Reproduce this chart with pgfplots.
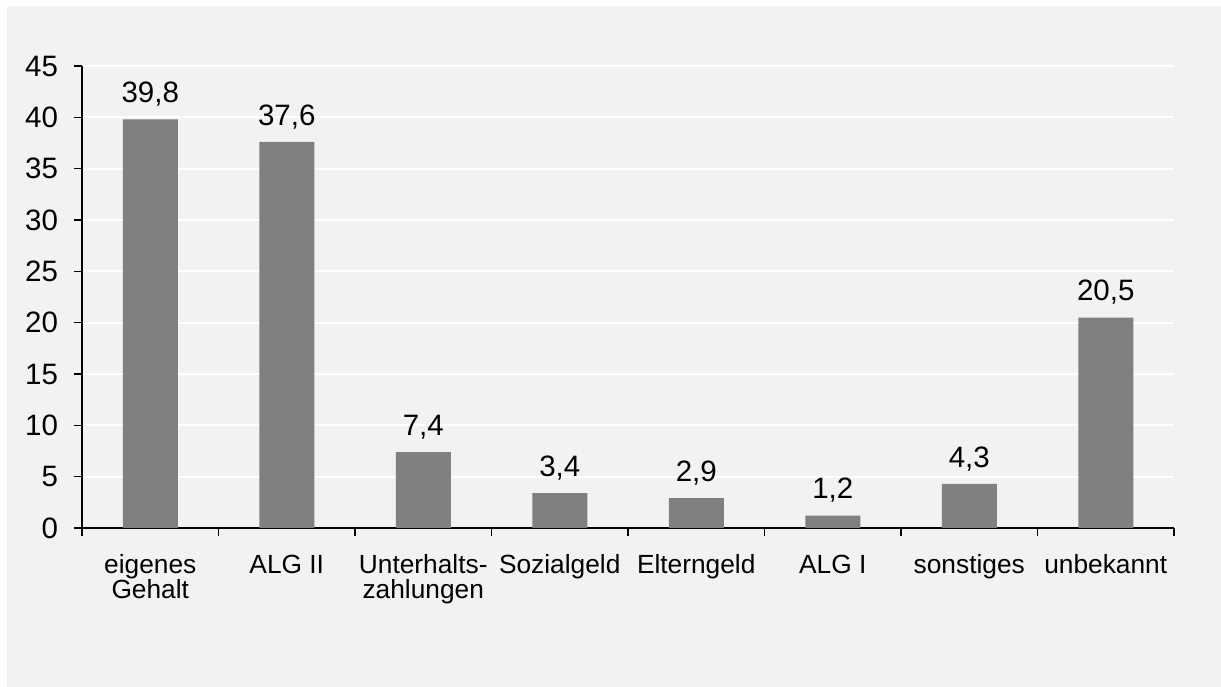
\documentclass[border=0pt]{standalone}
\usepackage{pgfplots}
\pgfplotsset{compat=1.18}
\usepackage{fontspec}
\setmainfont{Liberation Sans}
\definecolor{bg}{HTML}{F2F2F2}
\definecolor{barc}{HTML}{808080}
\newcommand\ts{\vphantom{ÄAhl}}
\begin{document}
\begin{tikzpicture}
\fill[white] (0,0) rectangle (610.5bp,343.5bp);
\fill[bg] (3.5bp,0) rectangle (610.5bp,340.5bp);
\begin{axis}[
  at={(41bp,79.5bp)}, anchor=south west,
  scale only axis, width=546bp, height=231bp,
  xmin=-0.5, xmax=7.5, ymin=0, ymax=45,
  ytick={0,5,...,45},
  xtick={-0.5,0.5,...,6.5},
  xticklabels={{\ts eigenes\\Gehalt},{\ts ALG II},{\ts Unterhalts-\\zahlungen},{\ts Sozialgeld},{\ts Elterngeld},{\ts ALG I},{\ts sonstiges},{\ts unbekannt}},
  extra x ticks={7.5}, extra x tick labels={},
  x tick label style={xshift=34.125bp, align=center, anchor=north, yshift=-4bp,
    font=\fontsize{13.2}{13}\selectfont},
  y tick label style={xshift=-4.5bp, font=\fontsize{14.8}{14.8}\selectfont},
  /pgf/number format/assume math mode=true,
  axis x line*=bottom, axis y line*=left,
  axis line style={black, line width=0.7bp},
  tick style={black, line width=0.7bp},
  tick align=outside, major tick length=4bp,
  ymajorgrids, major grid style={white, line width=1bp},
  ybar, bar width=27.5bp,
  nodes near coords,
  nodes near coords style={font=\fontsize{14.8}{14.8}\selectfont, anchor=south, yshift=3bp,
    /pgf/number format/.cd, use comma, fixed, fixed zerofill, precision=1, assume math mode=true},
]
\addplot[fill=barc, draw=none] coordinates {(0,39.8) (1,37.6) (2,7.4) (3,3.4) (4,2.9) (5,1.2) (6,4.3) (7,20.5)};
\end{axis}
\pgfresetboundingbox
\path (0,0) rectangle (610.5bp,343.5bp);
\end{tikzpicture}
\end{document}
